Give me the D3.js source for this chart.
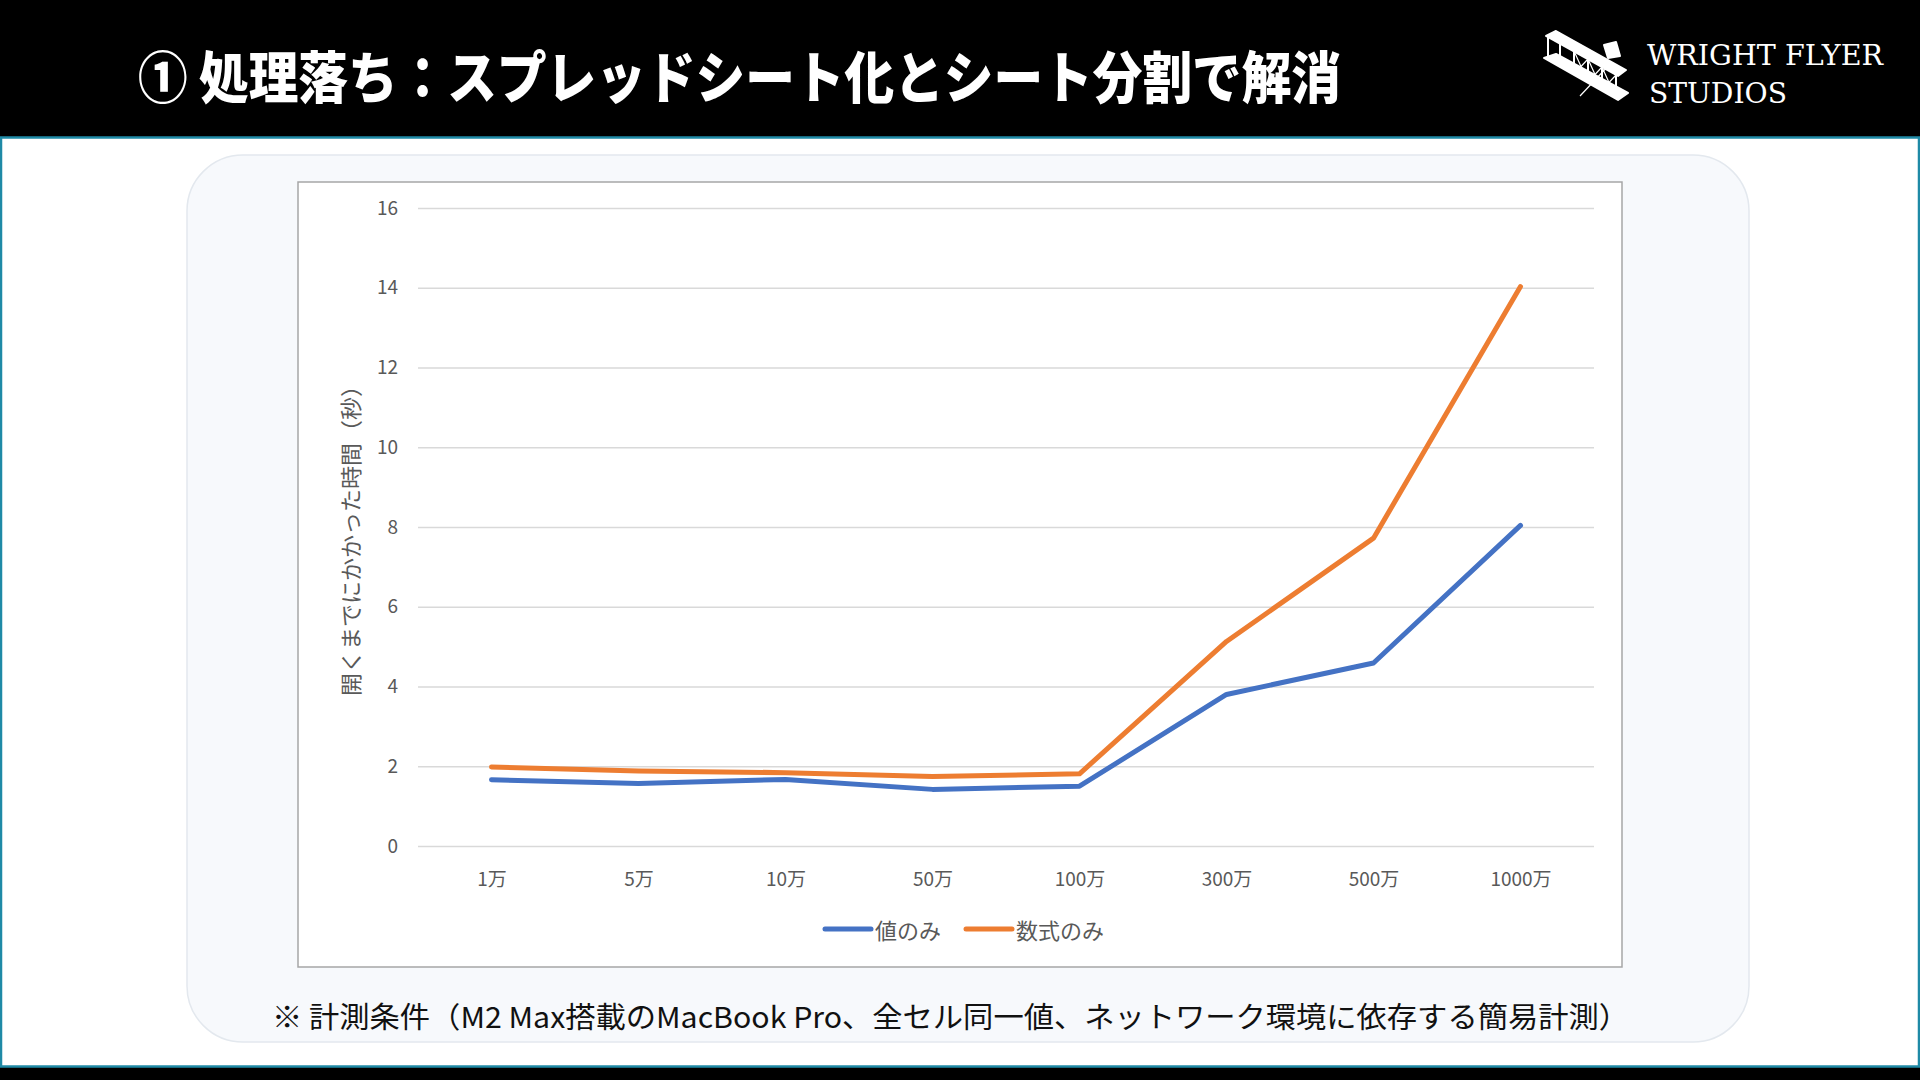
<!DOCTYPE html>
<html>
<head>
<meta charset="utf-8">
<script src="https://cdn.jsdelivr.net/npm/d3@7"></script>
<style>
  html, body { margin: 0; padding: 0; background: #000; }
  svg { display: block; }
</style>
</head>
<body>
<div id="chart"></div>
<script>
// data
var categories = ['1万', '5万', '10万', '50万', '100万', '300万', '500万', '1000万'];
var valuesOnly = [1.66, 1.57, 1.67, 1.42, 1.50, 3.80, 4.59, 8.04];
var formulasOnly = [1.98, 1.88, 1.84, 1.74, 1.81, 5.13, 7.72, 14.03];
var seriesNames = ['値のみ', '数式のみ'];
var yTicks = [0, 2, 4, 6, 8, 10, 12, 14, 16];

var titleText = '① 処理落ち：スプレッドシート化とシート分割で解消';
var yTitle = '開くまでにかかった時間（秒）';
var noteText = '※ 計測条件（M2 Max搭載のMacBook Pro、全セル同一値、ネットワーク環境に依存する簡易計測）';

var colors = ['#4472c4', '#ed7d31'];
var jp = '"Noto Sans CJK JP", "Noto Sans", sans-serif';

var W = 1920, H = 1080;
var svg = d3.select('#chart').append('svg')
    .attr('width', W)
    .attr('height', H);

// black frame + teal edge
svg.append('rect').attr('width', W).attr('height', H).attr('fill', '#000');
svg.append('rect')
    .attr('x', 1).attr('y', 137.5)
    .attr('width', W - 2).attr('height', 929)
    .attr('fill', '#fff')
    .attr('stroke', '#1f8aa6')
    .attr('stroke-width', 2.5);

// title
svg.append('text')
    .attr('x', 138).attr('y', 73)
    .attr('dominant-baseline', 'central')
    .attr('fill', '#fff')
    .attr('font-family', jp)
    .attr('font-weight', 900)
    .attr('font-size', 56)
    .attr('textLength', 1203)
    .attr('lengthAdjust', 'spacingAndGlyphs')
    .text(titleText);

// logo: little biplane + wordmark
var logo = svg.append('g')
    .attr('fill', 'none')
    .attr('stroke', '#fff')
    .attr('stroke-width', 2)
    .attr('stroke-linejoin', 'round');
logo.append('path')
    .attr('fill', '#fff')
    .attr('d', 'M1546,36 L1556,31 L1626,70 L1618,76 Z');
logo.append('path')
    .attr('fill', '#fff')
    .attr('d', 'M1544,58 L1556,54 L1628,93 L1618,100 Z');
logo.append('path')
    .attr('d', 'M1548,37 L1548,60 M1560,43 L1560,66 M1574,51 L1574,74 M1588,59 L1588,82 M1602,67 L1602,90 M1616,75 L1616,98');
logo.append('path')
    .attr('stroke-width', 1.2)
    .attr('d', 'M1574,74 L1588,59 L1602,90 L1616,75 M1574,51 L1588,82 L1602,67 L1616,98 M1580,96 L1610,64');
logo.append('path')
    .attr('fill', '#fff')
    .attr('d', 'M1604,45 L1616,42 L1620,56 L1608,58 Z');

svg.append('text')
    .attr('x', 1647).attr('y', 65)
    .attr('fill', '#fff')
    .attr('font-family', '"DejaVu Serif", "Liberation Serif", serif')
    .attr('font-weight', 300)
    .attr('font-size', 28)
    .attr('textLength', 236)
    .attr('lengthAdjust', 'spacingAndGlyphs')
    .text('WRIGHT FLYER');
svg.append('text')
    .attr('x', 1649).attr('y', 103)
    .attr('fill', '#fff')
    .attr('font-family', '"DejaVu Serif", "Liberation Serif", serif')
    .attr('font-size', 28)
    .attr('textLength', 138)
    .attr('lengthAdjust', 'spacingAndGlyphs')
    .text('STUDIOS');

// soft rounded panel
svg.append('rect')
    .attr('x', 187).attr('y', 155)
    .attr('width', 1562).attr('height', 887)
    .attr('rx', 56).attr('ry', 56)
    .attr('fill', '#f7f9fc')
    .attr('stroke', '#e3e8ee')
    .attr('stroke-width', 1.5);

// chart area box
svg.append('rect')
    .attr('x', 298).attr('y', 182)
    .attr('width', 1324).attr('height', 785)
    .attr('fill', '#fff')
    .attr('stroke', '#a6a6a6')
    .attr('stroke-width', 1.5);

var x = d3.scalePoint()
    .domain(categories)
    .range([418, 1594])
    .padding(0.5);

var y = d3.scaleLinear()
    .domain([0, 16])
    .range([846, 208]);

// gridlines
svg.append('g')
    .attr('transform', 'translate(418,0)')
    .call(d3.axisLeft(y).tickValues(yTicks).tickSize(-1176).tickFormat(''))
    .call(function(g) {
        g.select('.domain').remove();
        g.selectAll('line').attr('stroke', '#d9d9d9').attr('stroke-width', 1.5);
    });

// y tick labels
svg.append('g')
    .attr('transform', 'translate(418,0)')
    .call(d3.axisLeft(y).tickValues(yTicks).tickSize(0).tickPadding(20))
    .call(function(g) {
        g.select('.domain').remove();
        g.selectAll('text')
            .attr('fill', '#595959')
            .attr('font-family', jp)
            .attr('font-size', 19);
    });

// x tick labels
svg.append('g')
    .attr('transform', 'translate(0,846)')
    .call(d3.axisBottom(x).tickSize(0).tickPadding(27))
    .call(function(g) {
        g.select('.domain').remove();
        g.selectAll('text')
            .attr('fill', '#595959')
            .attr('font-family', jp)
            .attr('font-size', 19);
    });

// y axis title
svg.append('text')
    .attr('transform', 'translate(349,535) rotate(-90)')
    .attr('text-anchor', 'middle')
    .attr('dominant-baseline', 'central')
    .attr('fill', '#595959')
    .attr('font-family', jp)
    .attr('font-size', 22)
    .attr('textLength', 322)
    .attr('lengthAdjust', 'spacingAndGlyphs')
    .text(yTitle);

// lines
var line = d3.line()
    .x(function(d, i) { return x(categories[i]); })
    .y(function(d) { return y(d); });

[valuesOnly, formulasOnly].forEach(function(s, i) {
    svg.append('path')
        .datum(s)
        .attr('d', line)
        .attr('fill', 'none')
        .attr('stroke', colors[i])
        .attr('stroke-width', 5)
        .attr('stroke-linejoin', 'round')
        .attr('stroke-linecap', 'round');
});

// legend
var legendX = [825, 966];
seriesNames.forEach(function(n, i) {
    var lg = svg.append('g').attr('transform', 'translate(' + legendX[i] + ',929)');
    lg.append('line')
        .attr('x1', 0).attr('x2', 46)
        .attr('stroke', colors[i])
        .attr('stroke-width', 5)
        .attr('stroke-linecap', 'round');
    lg.append('text')
        .attr('x', 50)
        .attr('dominant-baseline', 'central')
        .attr('fill', '#595959')
        .attr('font-family', jp)
        .attr('font-size', 22)
        .text(n);
});

// footnote
svg.append('text')
    .attr('x', 272).attr('y', 1015)
    .attr('dominant-baseline', 'central')
    .attr('fill', '#111')
    .attr('font-family', jp)
    .attr('font-size', 29)
    .attr('textLength', 1357)
    .attr('lengthAdjust', 'spacingAndGlyphs')
    .text(noteText);
</script>
</body>
</html>
